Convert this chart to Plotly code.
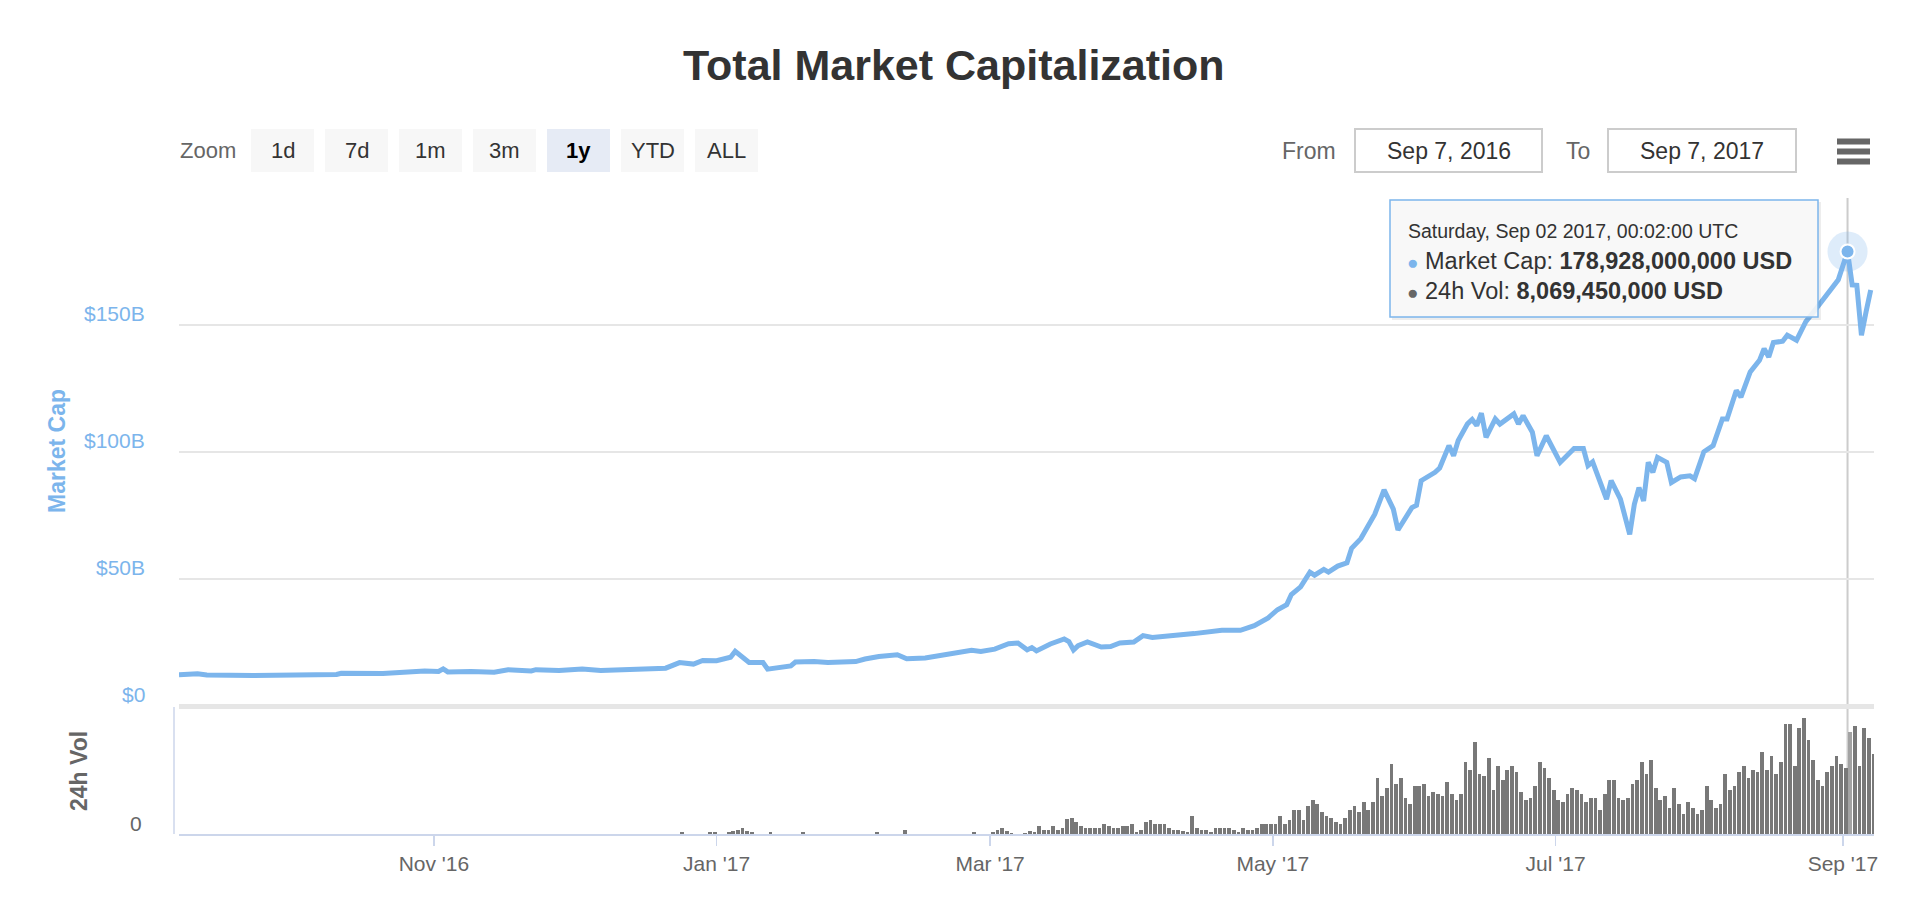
import plotly.graph_objects as go
import pandas as pd

# ---------------- data ----------------
mcap_dates = [
    "2016-09-07", "2016-09-11", "2016-09-13", "2016-09-23", "2016-10-11", "2016-10-12",
    "2016-10-21", "2016-10-25", "2016-10-30", "2016-11-02", "2016-11-03", "2016-11-04",
    "2016-11-09", "2016-11-14", "2016-11-17", "2016-11-22", "2016-11-23", "2016-11-28",
    "2016-12-03", "2016-12-07", "2016-12-14", "2016-12-20", "2016-12-21", "2016-12-24",
    "2016-12-27", "2016-12-29", "2017-01-01", "2017-01-04", "2017-01-05", "2017-01-08",
    "2017-01-11", "2017-01-12", "2017-01-15", "2017-01-17", "2017-01-18", "2017-01-22",
    "2017-01-25", "2017-01-31", "2017-02-02", "2017-02-05", "2017-02-09", "2017-02-11",
    "2017-02-15", "2017-02-20", "2017-02-25", "2017-02-27", "2017-03-02", "2017-03-05",
    "2017-03-07", "2017-03-09", "2017-03-10", "2017-03-11", "2017-03-14", "2017-03-17",
    "2017-03-18", "2017-03-19", "2017-03-20", "2017-03-22", "2017-03-25", "2017-03-27",
    "2017-03-29", "2017-04-01", "2017-04-03", "2017-04-05", "2017-04-11", "2017-04-14",
    "2017-04-20", "2017-04-24", "2017-04-27", "2017-04-30", "2017-05-02", "2017-05-04",
    "2017-05-05", "2017-05-07", "2017-05-09", "2017-05-10", "2017-05-12", "2017-05-13",
    "2017-05-15", "2017-05-17", "2017-05-18", "2017-05-20", "2017-05-23", "2017-05-24",
    "2017-05-25", "2017-05-27", "2017-05-28", "2017-05-31", "2017-06-01", "2017-06-02",
    "2017-06-05", "2017-06-06", "2017-06-08", "2017-06-09", "2017-06-10", "2017-06-12",
    "2017-06-13", "2017-06-14", "2017-06-15", "2017-06-16", "2017-06-18", "2017-06-19",
    "2017-06-22", "2017-06-23", "2017-06-24", "2017-06-26", "2017-06-27", "2017-06-29",
    "2017-07-02", "2017-07-05", "2017-07-07", "2017-07-08", "2017-07-09", "2017-07-12",
    "2017-07-13", "2017-07-15", "2017-07-17", "2017-07-18", "2017-07-19", "2017-07-20",
    "2017-07-21", "2017-07-22", "2017-07-23", "2017-07-25", "2017-07-26", "2017-07-28",
    "2017-07-30", "2017-07-31", "2017-08-02", "2017-08-04", "2017-08-06", "2017-08-07",
    "2017-08-09", "2017-08-10", "2017-08-12", "2017-08-14", "2017-08-15", "2017-08-16",
    "2017-08-17", "2017-08-19", "2017-08-20", "2017-08-22", "2017-08-24", "2017-08-26",
    "2017-08-28", "2017-08-31", "2017-09-02", "2017-09-03", "2017-09-04", "2017-09-05",
    "2017-09-06", "2017-09-07",
]
# market cap, billions USD
mcap_values = [
    12.3, 12.7, 12.2, 12.0, 12.4, 12.9,
    12.8, 13.4, 13.8, 13.6, 14.6, 13.4,
    13.6, 13.3, 14.3, 13.8, 14.3, 14.0,
    14.6, 14.0, 14.3, 14.6, 14.9, 17.1,
    16.5, 17.9, 17.8, 19.2, 21.5, 17.1,
    17.1, 14.5, 15.5, 15.8, 17.3, 17.5,
    17.1, 17.5, 18.5, 19.5, 20.2, 18.6,
    18.9, 20.2, 21.9, 21.5, 22.4, 24.5,
    24.8, 22.1, 23.0, 21.7, 24.4, 26.4,
    25.4, 22.1, 23.8, 25.2, 23.2, 23.4,
    24.8, 25.2, 27.7, 27.0, 27.8, 28.5,
    29.8, 29.8, 31.6, 34.7, 37.9, 39.9,
    43.9, 46.9, 52.7, 51.5, 53.8, 52.7,
    55.1, 56.4, 62.1, 65.9, 75.5, 80.0,
    85.1, 77.5, 69.3, 78.1, 79.0, 88.7,
    92.0, 93.7, 102.5, 98.5, 104.5, 111.1,
    112.8, 110.4, 115.3, 105.8, 113.0, 111.0,
    115.0, 111.0, 114.3, 107.8, 98.5, 106.4,
    95.9, 101.4, 101.4, 94.6, 96.1, 81.4,
    88.7, 81.4, 67.6, 79.4, 86.0, 80.7,
    95.9, 92.0, 97.9, 95.9, 88.0, 90.2,
    90.6, 89.5, 100.1, 102.5, 113.0, 113.0,
    124.2, 121.6, 131.5, 136.1, 140.7, 137.4,
    143.1, 143.6, 146.0, 144.0, 151.3, 155.9,
    160.8, 167.8, 178.928, 165.8, 165.6, 146.0,
    155.2, 163.8,
]

# 24h volume, billions USD, one value per day starting at vol_start
vol_start = "2016-12-24"
vol_values = [
    0.15, 0, 0, 0, 0, 0, 0.15, 0.15, 0, 0,
    0.12, 0.2, 0.3, 0.45, 0.25, 0.12, 0, 0, 0, 0.12,
    0, 0, 0, 0, 0, 0, 0.12, 0, 0, 0,
    0, 0, 0, 0, 0, 0, 0, 0, 0, 0,
    0, 0, 0.12, 0, 0, 0, 0, 0, 0.32, 0,
    0, 0, 0, 0, 0, 0, 0, 0, 0, 0,
    0, 0, 0, 0.12, 0, 0, 0, 0.15, 0.3, 0.45,
    0.24, 0.1, 0, 0, 0.1, 0.26, 0.13, 0.63, 0.32, 0.32,
    0.63, 0.32, 0.48, 1.16, 1.27, 0.95, 0.63, 0.45, 0.45, 0.45,
    0.48, 0.79, 0.63, 0.45, 0.45, 0.63, 0.63, 0.79, 0.19, 0.32,
    0.98, 1.11, 0.79, 0.79, 0.79, 0.45, 0.32, 0.32, 0.24, 0.19,
    1.43, 0.45, 0.32, 0.32, 0.19, 0.45, 0.45, 0.45, 0.45, 0.32,
    0.19, 0.45, 0.32, 0.32, 0.45, 0.79, 0.79, 0.79, 0.79, 1.43,
    0.79, 1.11, 1.9, 1.9, 1.11, 2.22, 2.7, 2.38, 1.75, 1.43,
    1.27, 0.95, 0.79, 1.27, 1.9, 2.22, 1.75, 2.54, 1.9, 2.54,
    4.44, 3.02, 3.65, 5.56, 3.97, 4.44, 2.86, 2.38, 3.81, 3.81,
    3.97, 3.02, 3.33, 3.17, 3.02, 4.13, 3.17, 2.7, 3.17, 5.71,
    5.08, 7.3, 4.76, 4.6, 6.03, 3.49, 5.4, 4.29, 5.08, 5.4,
    4.92, 3.33, 2.7, 2.86, 3.81, 5.71, 5.24, 4.44, 3.49, 2.7,
    2.54, 3.17, 3.65, 3.49, 3.17, 2.54, 2.86, 2.86, 1.9, 3.17,
    4.29, 4.29, 2.86, 2.7, 2.86, 3.97, 4.29, 5.71, 4.76, 5.87,
    3.65, 2.7, 3.02, 2.06, 3.65, 2.38, 1.59, 2.54, 2.06, 1.59,
    1.9, 3.81, 2.7, 2.06, 2.38, 4.76, 3.49, 3.81, 4.92, 5.4,
    4.44, 5.08, 4.92, 6.51, 5.08, 6.19, 4.76, 5.71, 8.73, 8.73,
    5.4, 8.41, 9.21, 7.46, 5.87, 4.29, 3.81, 4.92, 5.4, 6.19,
    5.56, 5.24, 8.06945, 8.57, 5.4, 8.41, 7.62, 6.35,
]

tick_dates = ["2016-11-01", "2017-01-01", "2017-03-01", "2017-05-01", "2017-07-01", "2017-09-01"]
tick_labels = ["Nov '16", "Jan '17", "Mar '17", "May '17", "Jul '17", "Sep '17"]
mcap_ticks = [0, 50, 100, 150]
mcap_tick_labels = ["$0", "$50B", "$100B", "$150B"]
mcap_grid = [0, 50, 100, 150, 200]
vol_ticks = [0]
vol_tick_labels = ["0"]
zoom_buttons = ["1d", "7d", "1m", "3m", "1y", "YTD", "ALL"]
selected_button = "1y"
range_from = "Sep 7, 2016"
range_to = "Sep 7, 2017"
hover_date = "2017-09-02"
hover_time = "00:02:00 UTC"
x_range = ["2016-09-07", "2017-09-07 17:00"]

# ---------------- style / layout helpers ----------------
FONT = "Liberation Sans, Arial, Helvetica, sans-serif"
BLUE = "#7cb5ec"
W, H = 1920, 914
L, R, T, B = 179, 1874, 198, 834          # plot area in pixels
SPLIT = 706                                # boundary between panes (px)
DAY_MS = 86400000


def px(x):
    return (x - L) / (R - L)


def py(y):
    return (B - y) / (B - T)


vol_dates = pd.date_range(vol_start, periods=len(vol_values), freq="D")
hover_ts = pd.Timestamp(hover_date)
bar_colors = ["#a3a3a3" if d == hover_ts else "#787878" for d in vol_dates]
hi = mcap_dates.index(hover_date)
hover_mcap = mcap_values[hi]
hover_vol = vol_values[list(vol_dates).index(hover_ts)]

fig = go.Figure()

fig.add_trace(go.Bar(
    x=vol_dates, y=vol_values, yaxis="y2", xaxis="x",
    marker=dict(color=bar_colors, line=dict(width=0)),
    width=0.8 * DAY_MS, offset=0.2 * DAY_MS,
    hoverinfo="skip", showlegend=False,
))

fig.add_trace(go.Scatter(
    x=mcap_dates, y=mcap_values, mode="lines", yaxis="y", xaxis="x",
    line=dict(color=BLUE, width=5), hoverinfo="skip", showlegend=False,
))

# hover halo + marker
fig.add_trace(go.Scatter(
    x=[hover_date], y=[hover_mcap], mode="markers", yaxis="y",
    marker=dict(size=40, color="rgba(124,181,236,0.25)", line=dict(width=0)),
    hoverinfo="skip", showlegend=False,
))
fig.add_trace(go.Scatter(
    x=[hover_date], y=[hover_mcap], mode="markers", yaxis="y",
    marker=dict(size=14, color=BLUE, line=dict(width=2, color="white")),
    hoverinfo="skip", showlegend=False,
))

dom_split = py(SPLIT)

fig.update_layout(
    width=W, height=H,
    margin=dict(l=L, r=W - R, t=T, b=H - B, pad=0),
    paper_bgcolor="white", plot_bgcolor="white",
    showlegend=False, bargap=0,
    font=dict(family=FONT, color="#333333"),
    xaxis=dict(
        type="date", range=x_range, anchor="y2",
        showgrid=False, zeroline=False,
        showline=True, linecolor="#ccd6eb", linewidth=2,
        ticks="outside", ticklen=10, tickwidth=1.5, tickcolor="#ccd6eb",
        tickvals=tick_dates, ticktext=tick_labels,
        tickfont=dict(size=21, color="#666666", family=FONT),
    ),
    yaxis=dict(
        domain=[dom_split, 1], range=[0, 200], anchor="x",
        tickvals=mcap_grid, showticklabels=False, ticks="",
        showgrid=True, gridcolor="#e6e6e6", gridwidth=1.5,
        zeroline=True, zerolinecolor="#e6e6e6", zerolinewidth=5,
        showline=False, fixedrange=True,
    ),
    yaxis2=dict(
        domain=[0, dom_split], range=[0, 10.15], anchor="x",
        showgrid=False, zeroline=False, showticklabels=False, ticks="",
        showline=False, fixedrange=True,
    ),
)

shapes = []
ann = []

# left line of the volume pane
shapes.append(dict(type="line", xref="paper", yref="paper",
                   x0=px(174), x1=px(174), y0=py(SPLIT + 1), y1=0,
                   line=dict(color="#ccd6eb", width=1.5), layer="below"))

# crosshair
shapes.append(dict(type="line", xref="x", yref="paper",
                   x0=hover_date, x1=hover_date, y0=0, y1=1,
                   line=dict(color="#cccccc", width=2), layer="below"))

# y tick labels
for v, t in zip(mcap_ticks, mcap_tick_labels):
    ann.append(dict(x=0, xref="paper", y=v, yref="y", xshift=-32, yshift=11.5,
                    text=t, showarrow=False, xanchor="right", yanchor="middle",
                    font=dict(size=21, color=BLUE, family=FONT)))
for v, t in zip(vol_ticks, vol_tick_labels):
    ann.append(dict(x=0, xref="paper", y=v, yref="y2", xshift=-35, yshift=11,
                    text=t, showarrow=False, xanchor="right", yanchor="middle",
                    font=dict(size=21, color="#666666", family=FONT)))

# axis titles
ann.append(dict(x=px(57), y=py(451), xref="paper", yref="paper", text="<b>Market Cap</b>",
                textangle=-90, showarrow=False, xanchor="center", yanchor="middle",
                font=dict(size=23, color=BLUE, family=FONT)))
ann.append(dict(x=px(79), y=py(771), xref="paper", yref="paper", text="<b>24h Vol</b>",
                textangle=-90, showarrow=False, xanchor="center", yanchor="middle",
                font=dict(size=23, color="#666666", family=FONT)))

# title
ann.append(dict(x=px(954), y=py(65), xref="paper", yref="paper",
                text="<b>Total Market Capitalization</b>", showarrow=False,
                xanchor="center", yanchor="middle",
                font=dict(size=43, color="#333333", family=FONT)))

# range selector
ROW_Y0, ROW_Y1 = 129, 172
ROW_C = (ROW_Y0 + ROW_Y1) / 2
ann.append(dict(x=px(178), y=py(ROW_C), xref="paper", yref="paper", text="Zoom",
                showarrow=False, xanchor="left", yanchor="middle",
                font=dict(size=22, color="#666666", family=FONT)))
for i, lab in enumerate(zoom_buttons):
    x0 = 251 + 74 * i
    x1 = x0 + 63
    sel = lab == selected_button
    shapes.append(dict(type="rect", xref="paper", yref="paper",
                       x0=px(x0), x1=px(x1), y0=py(ROW_Y1), y1=py(ROW_Y0),
                       fillcolor="#e6ebf5" if sel else "#f7f7f7",
                       line=dict(width=0), layer="above"))
    ann.append(dict(x=px((x0 + x1) / 2), y=py(ROW_C), xref="paper", yref="paper",
                    text=f"<b>{lab}</b>" if sel else lab, showarrow=False,
                    xanchor="center", yanchor="middle",
                    font=dict(size=22, color="#000000" if sel else "#333333", family=FONT)))

ann.append(dict(x=px(1338), y=py(ROW_C), xref="paper", yref="paper", text="From",
                showarrow=False, xanchor="right", yanchor="middle",
                font=dict(size=23, color="#666666", family=FONT)))
ann.append(dict(x=px(1592), y=py(ROW_C), xref="paper", yref="paper", text="To",
                showarrow=False, xanchor="right", yanchor="middle",
                font=dict(size=23, color="#666666", family=FONT)))
for (bx0, bx1), txt in zip([(1355, 1542), (1608, 1796)], [range_from, range_to]):
    shapes.append(dict(type="rect", xref="paper", yref="paper",
                       x0=px(bx0), x1=px(bx1), y0=py(ROW_Y1), y1=py(ROW_Y0),
                       fillcolor="white", line=dict(color="#cccccc", width=2)))
    ann.append(dict(x=px((bx0 + bx1) / 2), y=py(ROW_C), xref="paper", yref="paper",
                    text=txt, showarrow=False, xanchor="center", yanchor="middle",
                    font=dict(size=23, color="#333333", family=FONT)))

# hamburger menu
for cy in (141.5, 151.5, 161.5):
    shapes.append(dict(type="rect", xref="paper", yref="paper",
                       x0=px(1837), x1=px(1870), y0=py(cy + 3), y1=py(cy - 3),
                       fillcolor="#666666", line=dict(width=0)))

# tooltip
TX0, TX1, TY0, TY1 = 1390, 1818, 200, 317
shapes.append(dict(type="rect", xref="paper", yref="paper",
                   x0=px(TX0 + 2), x1=px(TX1 + 3), y0=py(TY1 + 3), y1=py(TY0 + 2),
                   fillcolor="rgba(0,0,0,0.07)", line=dict(width=0)))
shapes.append(dict(type="rect", xref="paper", yref="paper",
                   x0=px(TX0), x1=px(TX1), y0=py(TY1), y1=py(TY0),
                   fillcolor="rgba(248,248,248,0.9)", line=dict(color=BLUE, width=1.5)))

header = hover_ts.strftime("%A, %b %d %Y") + ", " + hover_time
ann.append(dict(x=px(1406), y=py(231), xref="paper", yref="paper", text=header,
                showarrow=False, xanchor="left", yanchor="middle",
                font=dict(size=19.5, color="#333333", family=FONT)))
mc_txt = f"{round(hover_mcap * 1e9):,} USD"
vol_txt = f"{round(hover_vol * 1e9):,} USD"
ann.append(dict(x=px(1405), y=py(261), xref="paper", yref="paper",
                text=f'<span style="color:{BLUE};font-size:19px">●</span> Market Cap: <b>{mc_txt}</b>',
                showarrow=False, xanchor="left", yanchor="middle",
                font=dict(size=23.5, color="#333333", family=FONT)))
ann.append(dict(x=px(1405), y=py(290.5), xref="paper", yref="paper",
                text=f'<span style="color:#666666;font-size:19px">●</span> 24h Vol: <b>{vol_txt}</b>',
                showarrow=False, xanchor="left", yanchor="middle",
                font=dict(size=23.5, color="#333333", family=FONT)))

fig.update_layout(shapes=shapes, annotations=ann)

fig.write_html("out.html", config={"displayModeBar": False, "staticPlot": True})
